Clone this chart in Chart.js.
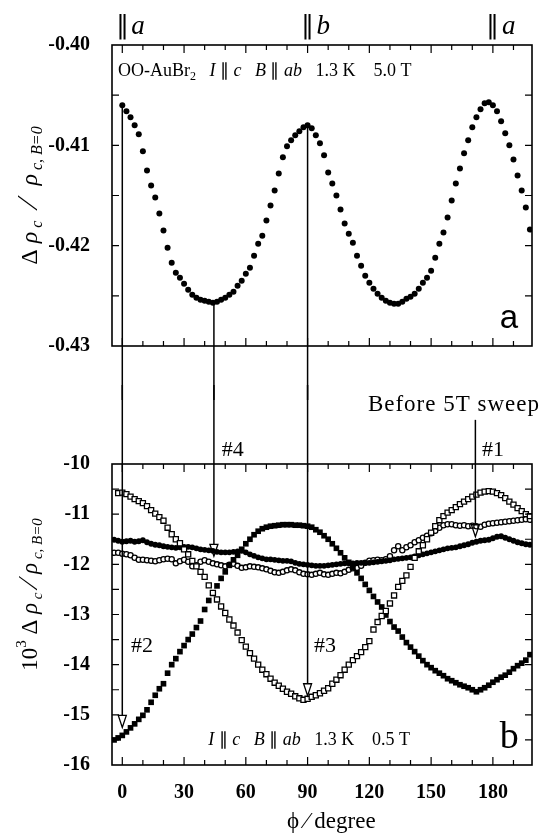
<!DOCTYPE html>
<html>
<head>
<meta charset="utf-8">
<script src="https://cdn.jsdelivr.net/npm/chart.js@4.4.1/dist/chart.umd.min.js"></script>
<style>
  body { margin: 0; background: #fff; }
  #wrap { position: relative; width: 548px; height: 839px; background: #fff; }
  canvas { position: absolute; left: 0; }
  #top { top: 0; }
  #bottom { top: 385px; }
</style>
</head>
<body>
<div id="wrap">
  <canvas id="top" width="548" height="400"></canvas>
  <canvas id="bottom" width="548" height="454"></canvas>
</div>
<script>
// angle phi (degree) for panel a, 5.0 T
const phiTop = [0, 2, 4, 6, 8, 10, 12, 14, 16, 18, 20, 22, 24, 26, 28, 30, 32, 34, 36, 38,
  40, 42, 44, 46, 48, 50, 52, 54, 56, 58, 60, 62, 64, 66, 68, 70, 72, 74, 76, 78,
  80, 82, 84, 86, 88, 90, 92, 94, 96, 98, 100, 102, 104, 106, 108, 110, 112, 114, 116, 118,
  120, 122, 124, 126, 128, 130, 132, 134, 136, 138, 140, 142, 144, 146, 148, 150, 152, 154, 156, 158,
  160, 162, 164, 166, 168, 170, 172, 174, 176, 178, 180, 182, 184, 186, 188, 190, 192, 194, 196, 198];

const rhoTop = [-0.4060, -0.4066, -0.4072, -0.4080, -0.4089, -0.4106, -0.4125, -0.4140, -0.4152, -0.4168,
  -0.4185, -0.4202, -0.4217, -0.4227, -0.4232, -0.4238, -0.4244, -0.4249, -0.4252, -0.4254,
  -0.4255, -0.4256, -0.4257, -0.4256, -0.4254, -0.4252, -0.4249, -0.4246, -0.4240, -0.4235,
  -0.4228, -0.4222, -0.4210, -0.4198, -0.4190, -0.4175, -0.4160, -0.4145, -0.4128, -0.4112,
  -0.4101, -0.4095, -0.4090, -0.4086, -0.4082, -0.4080, -0.4083, -0.4090, -0.4098, -0.4110,
  -0.4127, -0.4138, -0.4150, -0.4164, -0.4178, -0.4188, -0.4197, -0.4210, -0.4220, -0.4230,
  -0.4237, -0.4243, -0.4248, -0.4252, -0.4255, -0.4257, -0.4258, -0.4258, -0.4256, -0.4253,
  -0.4251, -0.4248, -0.4243, -0.4237, -0.4232, -0.4225, -0.4212, -0.4198, -0.4187, -0.4172,
  -0.4155, -0.4138, -0.4123, -0.4108, -0.4095, -0.4082, -0.4072, -0.4064, -0.4058, -0.4057,
  -0.4060, -0.4066, -0.4076, -0.4088, -0.4100, -0.4114, -0.4130, -0.4145, -0.4162, -0.4184];

// angle phi (degree) for panel b, 0.5 T
const phiBot = [-4, -2, 0, 2, 4, 6, 8, 10, 12, 14, 16, 18, 20, 22, 24, 26, 28, 30, 32, 34,
  36, 38, 40, 42, 44, 46, 48, 50, 52, 54, 56, 58, 60, 62, 64, 66, 68, 70, 72, 74,
  76, 78, 80, 82, 84, 86, 88, 90, 92, 94, 96, 98, 100, 102, 104, 106, 108, 110, 112, 114,
  116, 118, 120, 122, 124, 126, 128, 130, 132, 134, 136, 138, 140, 142, 144, 146, 148, 150, 152, 154,
  156, 158, 160, 162, 164, 166, 168, 170, 172, 174, 176, 178, 180, 182, 184, 186, 188, 190, 192, 194,
  196, 198];

// open squares (#3)
const sweep3 = [null, -10.58, -10.57, -10.60, -10.65, -10.70, -10.74, -10.78, -10.84, -10.92,
  -10.99, -11.06, -11.13, -11.27, -11.40, -11.50, -11.58, -11.70, -11.80, -11.93,
  -12.04, -12.15, -12.25, -12.42, -12.57, -12.70, -12.84, -12.97, -13.10, -13.22,
  -13.36, -13.51, -13.64, -13.77, -13.88, -14.00, -14.10, -14.19, -14.28, -14.36,
  -14.42, -14.48, -14.54, -14.58, -14.63, -14.67, -14.70, -14.68, -14.64, -14.61,
  -14.57, -14.52, -14.47, -14.38, -14.30, -14.21, -14.10, -14.00, -13.91, -13.83,
  -13.75, -13.65, -13.53, -13.30, -13.15, -13.03, -12.93, -12.78, -12.62, -12.45,
  -12.33, -12.22, -12.05, -11.87, -11.74, -11.62, -11.50, -11.37, -11.24, -11.12,
  -11.04, -10.97, -10.92, -10.86, -10.80, -10.75, -10.70, -10.65, -10.61, -10.57,
  -10.55, -10.54, -10.55, -10.58, -10.62, -10.68, -10.75, -10.81, -10.88, -10.94,
  -11.00, -11.04];

// filled squares (#2)
const sweep2 = [-15.50, -15.46, -15.41, -15.34, -15.26, -15.18, -15.09, -15.01, -14.90, -14.75,
  -14.61, -14.48, -14.38, -14.17, -14.00, -13.88, -13.74, -13.62, -13.50, -13.39,
  -13.26, -13.13, -12.90, -12.72, -12.58, -12.43, -12.28, -12.15, -12.02, -11.91,
  -11.82, -11.70, -11.59, -11.50, -11.41, -11.34, -11.29, -11.26, -11.24, -11.23,
  -11.22, -11.21, -11.21, -11.21, -11.22, -11.22, -11.23, -11.24, -11.26, -11.31,
  -11.36, -11.43, -11.50, -11.59, -11.68, -11.77, -11.87, -11.96, -12.06, -12.17,
  -12.28, -12.40, -12.52, -12.64, -12.75, -12.85, -13.01, -13.14, -13.25, -13.33,
  -13.45, -13.56, -13.65, -13.74, -13.83, -13.92, -14.00, -14.06, -14.12, -14.17,
  -14.22, -14.28, -14.32, -14.36, -14.40, -14.43, -14.46, -14.50, -14.54, -14.50,
  -14.46, -14.41, -14.35, -14.30, -14.25, -14.21, -14.15, -14.08, -14.02, -13.97,
  -13.91, -13.80];

// filled circles (#1, before 5T sweep)
const sweep1 = [-11.51, -11.53, -11.55, -11.54, -11.53, -11.55, -11.54, -11.52, -11.56, -11.59,
  -11.61, -11.62, -11.64, -11.65, -11.66, -11.67, -11.66, -11.65, -11.65, -11.66,
  -11.68, -11.70, -11.71, -11.72, -11.73, -11.75, -11.76, -11.76, -11.76, -11.75,
  -11.74, -11.73, -11.76, -11.80, -11.83, -11.86, -11.88, -11.90, -11.90, -11.91,
  -11.92, -11.93, -11.93, -11.94, -11.97, -11.99, -12.00, -12.01, -12.02, -12.03,
  -12.03, -12.03, -12.02, -12.01, -12.00, -11.99, -11.98, -11.98, -11.98, -11.97,
  -11.97, -11.97, -11.97, -11.96, -11.95, -11.94, -11.93, -11.92, -11.90, -11.89,
  -11.88, -11.87, -11.86, -11.84, -11.82, -11.80, -11.78, -11.76, -11.74, -11.72,
  -11.70, -11.68, -11.67, -11.66, -11.64, -11.62, -11.60, -11.57, -11.55, -11.53,
  -11.52, -11.51, -11.48, -11.45, -11.44, -11.47, -11.50, -11.53, -11.56, -11.58,
  -11.60, -11.61];

// open circles (#4)
const sweep4 = [-11.77, -11.77, -11.79, -11.80, -11.82, -11.87, -11.91, -11.91, -11.92, -11.93,
  -11.94, -11.92, -11.90, -11.89, -11.90, -11.98, -11.94, -11.91, -11.95, -12.04,
  -12.02, -11.95, -11.92, -11.95, -11.98, -12.00, -12.02, -12.04, -12.01, -11.99,
  -12.03, -12.07, -12.06, -12.04, -12.05, -12.06, -12.08, -12.10, -12.13, -12.16,
  -12.17, -12.15, -12.12, -12.10, -12.12, -12.16, -12.19, -12.20, -12.21, -12.19,
  -12.17, -12.20, -12.21, -12.19, -12.17, -12.18, -12.15, -12.11, -12.08, -12.07,
  -12.03, -11.97, -11.93, -11.92, -11.91, -11.92, -11.90, -11.84, -11.72, -11.64,
  -11.72, -11.66, -11.62, -11.56, -11.52, -11.47, -11.43, -11.38, -11.33, -11.27,
  -11.22, -11.20, -11.20, -11.22, -11.23, -11.22, -11.24, -11.23, -11.24, -11.25,
  -11.21, -11.19, -11.18, -11.17, -11.16, -11.15, -11.14, -11.13, -11.12, -11.11,
  -11.10, -11.11];

// guide lines: angle, start value in panel a, arrow tip in panel b
const guidePhi = [0, 44.5, 90];
const guideStart = [-0.4060, -0.4257, -0.4080];
const guideTip = [-15.25, -11.84, -14.62];
// "#1" line, from under "Before 5T sweep" down to the arrow tip
const sweepLinePhi = 171.5;
const sweepLineFrom = -9.12;
const sweepLineTip = -11.45;

const SERIF = '"Liberation Serif", "Times New Roman", serif';
const f = (size, style) => (style ? style + ' ' : '') + size + 'px ' + SERIF;

function pairs(xs, ys) {
  return xs.map((x, i) => ({ x: x, y: ys[i] })).filter(p => p.y !== null);
}

// write a run of text pieces, each with its own font and vertical shift
function drawRich(ctx, parts, x, y, align) {
  let w = 0;
  parts.forEach(p => { ctx.font = p[1]; w += ctx.measureText(p[0]).width; });
  let cx = align === 'center' ? x - w / 2 : x;
  parts.forEach(p => {
    ctx.font = p[1];
    ctx.fillText(p[0], cx, y + (p[2] || 0));
    cx += ctx.measureText(p[0]).width;
  });
}

// box round the plot area, with inward ticks on all four sides
const frameTicks = {
  id: 'frameTicks',
  afterDraw(chart, args, opts) {
    const { ctx, chartArea: a, scales: { x, y } } = chart;
    ctx.save();
    ctx.strokeStyle = '#000';
    ctx.lineWidth = 1.6;
    ctx.strokeRect(a.left, a.top, a.right - a.left, a.bottom - a.top);
    ctx.lineWidth = 1.2;
    ctx.beginPath();
    for (let v = 0; v <= 190; v += 10) {
      const px = x.getPixelForValue(v);
      const len = v % 30 === 0 ? 8 : 5;
      ctx.moveTo(px, a.top); ctx.lineTo(px, a.top + len);
      ctx.moveTo(px, a.bottom); ctx.lineTo(px, a.bottom - len);
    }
    for (let k = 1; k < opts.yCount; k++) {
      const py = y.getPixelForValue(y.min + k * opts.yStep);
      ctx.moveTo(a.left, py); ctx.lineTo(a.left + 7, py);
      ctx.moveTo(a.right, py); ctx.lineTo(a.right - 7, py);
    }
    ctx.stroke();
    ctx.restore();
  }
};

// rotated y-axis title with sub/superscripts
const yTitle = {
  id: 'yTitle',
  afterDraw(chart, args, opts) {
    const { ctx, chartArea: a } = chart;
    ctx.save();
    ctx.fillStyle = '#000';
    ctx.textBaseline = 'alphabetic';
    ctx.translate(opts.x, (a.top + a.bottom) / 2 + opts.shift);
    ctx.rotate(-Math.PI / 2);
    drawRich(ctx, opts.parts, 0, 0, 'center');
    ctx.restore();
  }
};

const marks = {
  id: 'marks',
  afterDatasetsDraw(chart, args, opts) {
    const { ctx, scales: { x, y } } = chart;
    ctx.save();
    ctx.strokeStyle = '#000';
    ctx.fillStyle = '#000';
    ctx.lineWidth = 1.5;
    opts.draw(ctx, x, y, chart);
    ctx.restore();
  }
};

function arrowDown(ctx, px, y0, y1) {
  const head = 12;
  ctx.beginPath();
  ctx.moveTo(px, y0);
  ctx.lineTo(px, y1 - head);
  ctx.stroke();
  ctx.beginPath();
  ctx.moveTo(px - 4, y1 - head);
  ctx.lineTo(px + 4, y1 - head);
  ctx.lineTo(px, y1);
  ctx.closePath();
  ctx.lineWidth = 1.3;
  ctx.stroke();
  ctx.lineWidth = 1.5;
}

const tickFont = { family: SERIF, size: 20, weight: 'bold' };

new Chart(document.getElementById('top'), {
  type: 'scatter',
  data: {
    datasets: [{
      data: pairs(phiTop, rhoTop),
      pointRadius: 3,
      pointBackgroundColor: '#000',
      pointBorderWidth: 0
    }]
  },
  options: {
    responsive: false,
    animation: false,
    layout: { padding: { top: 45, right: 16, bottom: 54, left: 0 } },
    plugins: {
      legend: { display: false },
      tooltip: { enabled: false },
      frameTicks: { yStep: 0.005, yCount: 6 },
      yTitle: {
        x: 37, shift: 0,
        parts: [['\u0394 ', f(24)], ['\u03c1', f(24, 'italic')], [' c', f(16, 'italic'), 5],
          ['  \u2044  ', f(30)], ['\u03c1', f(24, 'italic')], [' c, B=0', f(16, 'italic'), 5]]
      },
      marks: {
        draw(ctx, x, y, chart) {
          guidePhi.forEach((p, i) => {
            const px = x.getPixelForValue(p);
            ctx.beginPath();
            ctx.moveTo(px, y.getPixelForValue(guideStart[i]));
            ctx.lineTo(px, chart.height);
            ctx.stroke();
          });
          const tx = x.getPixelForValue(-2.1);
          ctx.textBaseline = 'alphabetic';
          drawRich(ctx, [['OO-AuBr', f(18)], ['2', f(12), 4], ['   ', f(18)], ['I', f(18, 'italic')],
            [' \u2225 ', f(18)], ['c', f(18, 'italic')], ['   ', f(18)], ['B', f(18, 'italic')],
            [' \u2225 ', f(18)], ['ab', f(18, 'italic')], ['   1.3 K    5.0 T', f(18)]],
            tx, y.getPixelForValue(-0.4031), 'left');
          [[0, 'a'], [90, 'b'], [180, 'a']].forEach(m => {
            const px = x.getPixelForValue(m[0]);
            const py = y.getPixelForValue(-0.3989);
            ctx.font = f(26);
            ctx.textAlign = 'center';
            ctx.fillText('\u2225', px, py);
            ctx.textAlign = 'left';
            ctx.font = f(27, 'italic');
            ctx.fillText(m[1], px + 9, py);
          });
          ctx.font = '33px "Liberation Sans", Arial, sans-serif';
          ctx.fillText('a', x.getPixelForValue(183.3), y.getPixelForValue(-0.4282));
        }
      }
    },
    scales: {
      x: { type: 'linear', min: -5, max: 199, display: false },
      y: {
        min: -0.43, max: -0.40,
        afterFit(s) { s.width = 112; },
        grid: { display: false, drawTicks: false },
        border: { display: false },
        ticks: {
          stepSize: 0.01, includeBounds: false, padding: 22, color: '#000', font: tickFont,
          callback: v => v.toFixed(2)
        }
      }
    }
  },
  plugins: [frameTicks, yTitle, marks]
});

new Chart(document.getElementById('bottom'), {
  type: 'scatter',
  data: {
    datasets: [
      { data: pairs(phiBot, sweep3), pointStyle: 'rect', pointRadius: 3.6, pointBackgroundColor: '#fff', pointBorderColor: '#000', pointBorderWidth: 1.3 },
      { data: pairs(phiBot, sweep2), pointStyle: 'rect', pointRadius: 4, pointBackgroundColor: '#000', pointBorderWidth: 0 },
      { data: pairs(phiBot, sweep1), pointStyle: 'circle', pointRadius: 2.9, pointBackgroundColor: '#000', pointBorderWidth: 0 },
      { data: pairs(phiBot, sweep4), pointStyle: 'circle', pointRadius: 2.6, pointBackgroundColor: '#fff', pointBorderColor: '#000', pointBorderWidth: 1.3 }
    ]
  },
  options: {
    responsive: false,
    animation: false,
    layout: { padding: { top: 79, right: 16, bottom: 0, left: 0 } },
    plugins: {
      legend: { display: false },
      tooltip: { enabled: false },
      frameTicks: { yStep: 0.5, yCount: 12 },
      yTitle: {
        x: 37, shift: -20,
        parts: [['10', f(23)], ['3', f(15), -11], [' \u0394 ', f(23)], ['\u03c1', f(23, 'italic')], [' c', f(15, 'italic'), 5],
          [' \u2044 ', f(28)], ['\u03c1', f(23, 'italic')], [' c, B=0', f(15, 'italic'), 5]]
      },
      marks: {
        draw(ctx, x, y) {
          guidePhi.forEach((p, i) => {
            arrowDown(ctx, x.getPixelForValue(p), 0, y.getPixelForValue(guideTip[i]));
          });
          arrowDown(ctx, x.getPixelForValue(sweepLinePhi), y.getPixelForValue(sweepLineFrom), y.getPixelForValue(sweepLineTip));
          ctx.textAlign = 'center';
          ctx.textBaseline = 'middle';
          ctx.font = f(22);
          [['#4', 53.7, -9.73], ['#1', 180, -9.73], ['#2', 9.6, -13.64], ['#3', 98.4, -13.64]].forEach(t => {
            ctx.fillText(t[0], x.getPixelForValue(t[1]), y.getPixelForValue(t[2]));
          });
          ctx.textAlign = 'left';
          ctx.font = f(23);
          ctx.letterSpacing = '1px';
          ctx.fillText('Before 5T sweep', x.getPixelForValue(119.3), y.getPixelForValue(-8.82));
          ctx.letterSpacing = '0px';
          ctx.textAlign = 'center';
          ctx.fillText('\u03d5 \u2044 degree', x.getPixelForValue(101.5), y.getPixelForValue(-17.14));
          ctx.textAlign = 'left';
          ctx.textBaseline = 'alphabetic';
          drawRich(ctx, [['I', f(18, 'italic')], [' \u2225 ', f(18)], ['c', f(18, 'italic')], ['   ', f(18)],
            ['B', f(18, 'italic')], [' \u2225 ', f(18)], ['ab', f(18, 'italic')], ['   1.3 K    0.5 T', f(18)]],
            x.getPixelForValue(41.7), y.getPixelForValue(-15.6), 'left');
          ctx.font = f(38);
          ctx.fillText('b', x.getPixelForValue(183.3), y.getPixelForValue(-15.66));
        }
      }
    },
    scales: {
      x: {
        type: 'linear', min: -5, max: 199,
        afterFit(s) { s.height = 74; },
        grid: { display: false, drawTicks: false },
        border: { display: false },
        ticks: { stepSize: 30, includeBounds: false, padding: 16, color: '#000', font: tickFont }
      },
      y: {
        min: -16, max: -10,
        afterFit(s) { s.width = 112; },
        grid: { display: false, drawTicks: false },
        border: { display: false },
        ticks: { stepSize: 1, includeBounds: false, padding: 22, color: '#000', font: tickFont }
      }
    }
  },
  plugins: [frameTicks, yTitle, marks]
});
</script>
</body>
</html>
